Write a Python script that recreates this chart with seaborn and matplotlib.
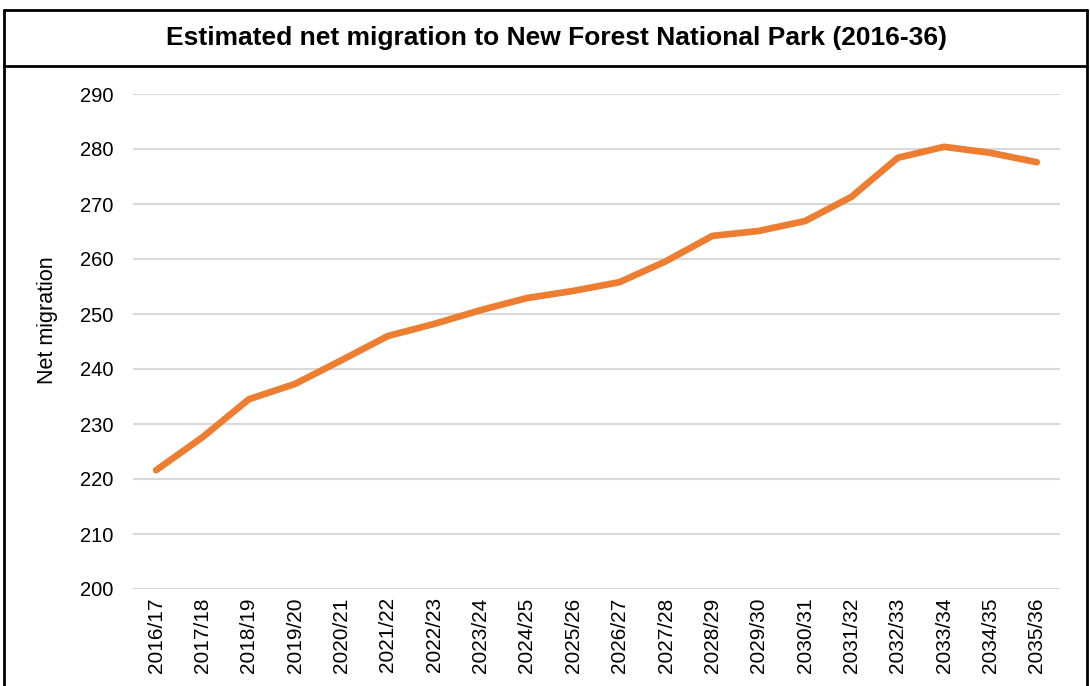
import matplotlib
matplotlib.use('Agg')
import matplotlib.pyplot as plt
import seaborn as sns
import pandas as pd
from matplotlib.lines import Line2D

# data
years = ["2016/17", "2017/18", "2018/19", "2019/20", "2020/21", "2021/22", "2022/23",
         "2023/24", "2024/25", "2025/26", "2026/27", "2027/28", "2028/29", "2029/30",
         "2030/31", "2031/32", "2032/33", "2033/34", "2034/35", "2035/36"]
net_migration = [221.6, 227.6, 234.5, 237.3, 241.6, 246.0, 248.2, 250.7, 252.9, 254.2,
                 255.8, 259.6, 264.2, 265.1, 266.9, 271.3, 278.4, 280.4, 279.3, 277.6]
y_ticks = list(range(200, 291, 10))

df = pd.DataFrame({"year": years, "value": net_migration})

sns.set_theme(style="white")
plt.rcParams['font.family'] = ['Liberation Sans', 'DejaVu Sans']
plt.rcParams['text.color'] = 'black'
plt.rcParams['xtick.color'] = 'black'
plt.rcParams['ytick.color'] = 'black'
plt.rcParams['axes.labelcolor'] = 'black'

fig = plt.figure(figsize=(10.9, 6.86), dpi=100)
ax = fig.add_axes([133 / 1090, 1 - 589 / 686, (1060 - 133) / 1090, (589 - 94) / 686])

sns.lineplot(data=df, x="year", y="value", color="#ED7D31", linewidth=4.8,
             sort=False, ax=ax, solid_capstyle="round")

ax.set_ylim(200, 290)
ax.set_yticks(y_ticks)
ax.set_xlim(-0.5, len(years) - 0.5)
ax.yaxis.grid(True, color="#D9D9D9", linewidth=1.5)
ax.set_axisbelow(True)
for s in ax.spines.values():
    s.set_visible(False)
ax.tick_params(axis="x", labelrotation=90, labelsize=15, length=0, pad=6)
ax.tick_params(axis="y", labelsize=14.5, length=0, pad=14)
ax.set_xlabel("")
ax.set_ylabel("Net migration", fontsize=15.5)
ax.yaxis.set_label_coords(-0.081, 0.543)

# outer frame and title box
W, H = 1090, 686
def fline(x0, y0, x1, y1):
    fig.add_artist(Line2D([x0 / W, x1 / W], [1 - y0 / H, 1 - y1 / H],
                          color="black", linewidth=2, transform=fig.transFigure))
fline(3.5, 10, 1086.5, 10)
fline(3.5, 66, 1086.5, 66)
fline(3.5, 10, 3.5, 686)
fline(1086.5, 10, 1086.5, 686)

fig.text(556 / W, 1 - 38 / H, "Estimated net migration to New Forest National Park (2016-36)",
         ha="center", va="center", fontsize=19, fontweight="bold")

fig.savefig("out.png", dpi=100)
